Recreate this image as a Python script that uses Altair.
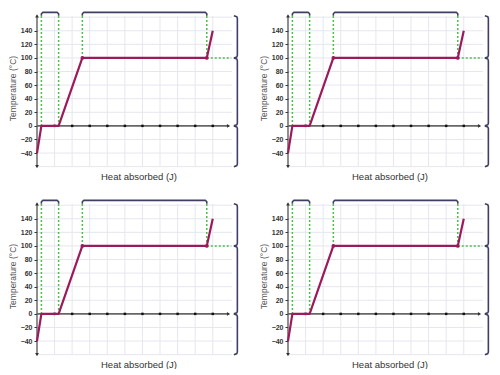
import altair as alt
import pandas as pd

# ---- data ----
curve_x = [0, 0.25, 1.23, 2.58, 9.66, 10.0]
curve_y = [-40, 0, 0, 100, 100, 140]
y_ticks = [-40, -20, 0, 20, 40, 60, 80, 100, 120, 140]
grid_y = [-60, -40, -20, 20, 40, 60, 80, 100, 120, 140, 160]
grid_x = [1, 2, 3, 4, 5, 6, 7, 8, 9, 10]
dot_x = [1, 2, 3, 4, 5, 6, 7, 8, 9, 10]
phase_x = [0.25, 1.23, 2.58, 9.66]
phase_y0 = [0, 0, 100, 100]
top_spans = [(0.25, 1.23), (2.58, 9.66)]
right_spans = [(100, 162), (0, 100), (-60, 0)]

Y_TOP = 162
Y_BOT = -60
X_END = 10.9
BR_X = 11.4

XS = alt.Scale(domain=[0, 11.55], nice=False, zero=False)
YS = alt.Scale(domain=[-62, 173.5], nice=False, zero=False)
FONT = "Liberation Sans"

x_axis = alt.Axis(title="Heat absorbed (J)", labels=False, ticks=False, domain=False,
                  grid=False, titleFontSize=9.5, titleFont=FONT, titleFontWeight="normal",
                  titleColor="#333333", titlePadding=3)
y_axis = alt.Axis(title="Temperature (°C)", values=y_ticks, grid=False, domain=False,
                  tickSize=3, tickColor="#333333", labelFontSize=7, labelFont=FONT,
                  labelFontWeight="bold", labelColor="#333333", labelPadding=2,
                  titleFontSize=8.5, titleFont=FONT, titleFontWeight="normal",
                  titleColor="#555555", titlePadding=3)


def X(f):
    return alt.X(f, type="quantitative", scale=XS, axis=x_axis)


def Y(f):
    return alt.Y(f, type="quantitative", scale=YS, axis=y_axis)


# grid
gh = pd.DataFrame({"y": grid_y, "x0": 0, "x1": 11.1})
gv = pd.DataFrame({"x": grid_x, "y0": Y_BOT, "y1": Y_TOP})
grid_h = alt.Chart(gh).mark_rule(color="#e6e6ef", strokeWidth=1).encode(
    x=X("x0"), x2="x1", y=Y("y"))
grid_v = alt.Chart(gv).mark_rule(color="#e6e6ef", strokeWidth=1).encode(
    x=X("x"), y=Y("y0"), y2="y1")

# green dotted guide lines
gd = pd.DataFrame({"x": phase_x, "y0": phase_y0, "y1": Y_TOP})
green_v = alt.Chart(gd).mark_rule(color="#4dbd4d", strokeWidth=1.5, strokeDash=[2, 2]).encode(
    x=X("x"), y=Y("y0"), y2="y1")
gh2 = pd.DataFrame({"x0": [phase_x[-1]], "x1": [11.05], "y": [100]})
green_h = alt.Chart(gh2).mark_rule(color="#4dbd4d", strokeWidth=1.5, strokeDash=[2, 2]).encode(
    x=X("x0"), x2="x1", y=Y("y"))

# axis lines
ya = pd.DataFrame({"x": [0], "y0": [Y_BOT], "y1": [Y_TOP]})
y_line = alt.Chart(ya).mark_rule(color="#444444", strokeWidth=1.2).encode(
    x=X("x"), y=Y("y0"), y2="y1")
xa = pd.DataFrame({"x0": [0], "x1": [X_END], "y": [0]})
x_line = alt.Chart(xa).mark_rule(color="#666666", strokeWidth=1.6).encode(
    x=X("x0"), x2="x1", y=Y("y"))

arrows = pd.DataFrame({"x": [X_END, 0, 0], "y": [0, Y_TOP, Y_BOT],
                       "shape": ["triangle-right", "triangle-up", "triangle-down"]})
arrow_m = alt.Chart(arrows).mark_point(filled=True, size=14, color="#333333", opacity=1).encode(
    x=X("x"), y=Y("y"), shape=alt.Shape("shape:N", scale=None, legend=None))

dots = pd.DataFrame({"x": dot_x, "y": 0})
dot_m = alt.Chart(dots).mark_square(size=6, color="#111111", opacity=1).encode(
    x=X("x"), y=Y("y"))

# heating curve
cd = pd.DataFrame({"x": curve_x, "y": curve_y, "o": range(len(curve_x))})
curve = alt.Chart(cd).mark_line(color="#9c1a5b", strokeWidth=2.2, strokeJoin="round").encode(
    x=X("x"), y=Y("y"), order="o:Q")
corner = alt.Chart(cd.iloc[[3, 4]]).mark_circle(color="#9c1a5b", size=14, opacity=1).encode(
    x=X("x"), y=Y("y"))

# brackets
rows = []
bid = 0
for a, b in top_spans:
    pts = [(a, 162), (a, 165), (a + 0.08, 167), (b - 0.08, 167), (b, 165), (b, 162)]
    for i, (px, py) in enumerate(pts):
        rows.append({"id": bid, "o": i, "x": px, "y": py})
    bid += 1
for lo, hi in right_spans:
    pts = [(BR_X - 0.2, hi), (BR_X - 0.03, hi - 1.5), (BR_X, hi - 4), (BR_X, lo + 4),
           (BR_X - 0.03, lo + 1.5), (BR_X - 0.2, lo)]
    for i, (px, py) in enumerate(pts):
        rows.append({"id": bid, "o": i, "x": px, "y": py})
    bid += 1
bd = pd.DataFrame(rows)
brackets = alt.Chart(bd).mark_line(color="#3f3f66", strokeWidth=1.6, strokeJoin="round").encode(
    x=X("x"), y=Y("y"), detail="id:N", order="o:Q")

panel = alt.layer(grid_h, grid_v, green_v, green_h, y_line, x_line, dot_m, arrow_m,
                  curve, corner, brackets).properties(width=203, height=160)

chart = alt.vconcat(
    alt.hconcat(panel, panel, spacing=19),
    alt.hconcat(panel, panel, spacing=19),
    spacing=15,
).properties(padding=0, background="white").configure_view(stroke=None)

chart.save("out.html", embed_options={"renderer": "svg", "actions": False})
